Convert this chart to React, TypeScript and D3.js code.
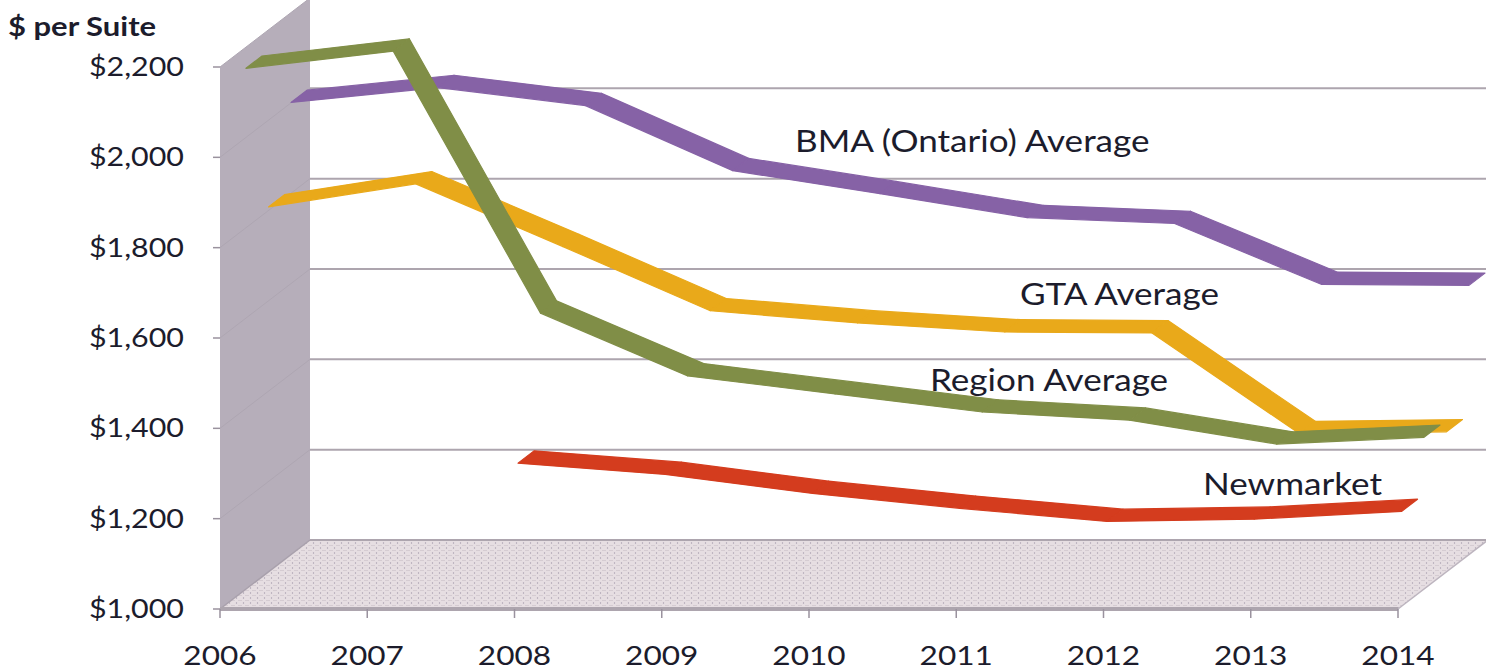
import React from 'react';
import * as d3 from 'd3';

// ---------- data ----------
const years = [2006, 2007, 2008, 2009, 2010, 2011, 2012, 2013, 2014];
const yTickValues = [1000, 1200, 1400, 1600, 1800, 2000, 2200];
const newmarketValues: (number | null)[] = [null, null, 1317, 1292, 1250, 1217, 1188, 1193, 1210];
const regionValues: (number | null)[] = [2153, 2191, 1611, 1472, 1432, 1392, 1374, 1321, 1336];
const gtaValues: (number | null)[] = [1808, 1859, 1720, 1578, 1551, 1531, 1529, 1306, 1310];
const bmaValues: (number | null)[] = [2001, 2034, 1994, 1850, 1799, 1746, 1733, 1598, 1596];
const seriesNames = ['Newmarket', 'Region Average', 'GTA Average', 'BMA (Ontario) Average'];
const seriesColors = ['#D43C1E', '#808E47', '#E9A91A', '#8662A6'];
const yAxisTitle = '$ per Suite';

// ---------- layout ----------
const W = 1486;
const H = 670;
const DX = 90; // depth offset in x
const DY = -69; // depth offset in y
const TEXT = '#1c1c2c';
const FONT = 'Lato, "Open Sans", sans-serif';
const SX = 1.17; // horizontal stretch of text

const x = d3.scalePoint<number>().domain(years).range([220, 1398]);
const y = d3.scaleLinear().domain([1000, 2200]).range([609, 67]);

const proj = (yr: number, v: number, d: number): [number, number] => [
  (x(yr) as number) + d * DX,
  y(v) + d * DY,
];

const allSeries = [newmarketValues, regionValues, gtaValues, bmaValues];

// label placements (layout)
const seriesLabelPos = [
  { x: 1203, y: 495 },
  { x: 930, y: 391 },
  { x: 1020, y: 305 },
  { x: 795, y: 152 },
];

function Ribbon({ values, idx }: { values: (number | null)[]; idx: number }) {
  const f0 = (idx * 22.5 + 3.5) / DX;
  const f1 = (idx * 22.5 + 19.5) / DX;
  const color = seriesColors[idx];
  const polys: string[] = [];
  for (let i = 0; i < years.length - 1; i++) {
    const a = values[i];
    const b = values[i + 1];
    if (a == null || b == null) continue;
    const p1f = proj(years[i], a, f0);
    const p2f = proj(years[i + 1], b, f0);
    const p2b = proj(years[i + 1], b, f1);
    const p1b = proj(years[i], a, f1);
    polys.push([p1f, p2f, p2b, p1b].map((p) => p.join(',')).join(' '));
  }
  return (
    <g>
      {polys.map((pts, i) => (
        <polygon key={i} points={pts} fill={color} stroke={color} strokeWidth={1.2} strokeLinejoin="round" />
      ))}
    </g>
  );
}

export default function App() {
  const x0 = x(2006) as number;
  const x1 = x(2014) as number;
  const yBase = y(1000);
  const yTop = y(2200);

  const floorPts = [
    [x0, yBase],
    [x1, yBase],
    [x1 + DX, yBase + DY],
    [x0 + DX, yBase + DY],
  ]
    .map((p) => p.join(','))
    .join(' ');
  const wallPts = [
    [x0, yBase],
    [x0, yTop],
    [x0 + DX, yTop + DY],
    [x0 + DX, yBase + DY],
  ]
    .map((p) => p.join(','))
    .join(' ');

  const drawOrder = [3, 2, 1, 0];

  return (
    <svg
      width={W}
      height={H}
      viewBox={`0 0 ${W} ${H}`}
      style={{ position: 'absolute', left: 0, top: 0, display: 'block', background: '#fff' }}
    >
      <defs>
        <pattern id="floorPat" width="7" height="5" patternUnits="userSpaceOnUse">
          <rect width="7" height="5" fill="#E6DEE2" />
          <line x1="0" y1="0.5" x2="4" y2="0.5" stroke="#D5CCD2" strokeWidth="1" />
          <circle cx="5.5" cy="3" r="0.7" fill="#A89EB0" />
        </pattern>
      </defs>

      {/* side wall */}
      <polygon points={wallPts} fill="#B6AEBA" />
      {yTickValues.slice(1).map((v) => (
        <line
          key={'sw' + v}
          x1={x0}
          y1={y(v)}
          x2={x0 + DX}
          y2={y(v) + DY}
          stroke="#AEA6B2"
          strokeWidth={1}
        />
      ))}

      {/* floor */}
      <polygon points={floorPts} fill="url(#floorPat)" />
      <line x1={x0} y1={yBase} x2={x0 + DX} y2={yBase + DY} stroke="#A8A0AC" strokeWidth={1.5} />
      <line x1={x1} y1={yBase} x2={x1 + DX} y2={yBase + DY} stroke="#BDB5BF" strokeWidth={1.5} />

      {/* back wall gridlines */}
      {yTickValues.map((v) => (
        <line
          key={'g' + v}
          x1={x0 + DX}
          y1={y(v) + DY}
          x2={W}
          y2={y(v) + DY}
          stroke="#ADA5AE"
          strokeWidth={2}
        />
      ))}

      {/* axes */}
      <line x1={x0} y1={yBase} x2={x1} y2={yBase} stroke="#ADA5AE" strokeWidth={4} />
      {yTickValues.map((v) => (
        <line key={'yt' + v} x1={x0 - 7} y1={y(v)} x2={x0} y2={y(v)} stroke="#9A929E" strokeWidth={1.5} />
      ))}
      {years.map((yr) => (
        <line
          key={'xt' + yr}
          x1={x(yr) as number}
          y1={yBase}
          x2={x(yr) as number}
          y2={yBase + 9}
          stroke="#9A929E"
          strokeWidth={1.5}
        />
      ))}

      {/* ribbons */}
      {drawOrder.map((i) => (
        <Ribbon key={i} values={allSeries[i]} idx={i} />
      ))}

      {/* series labels */}
      {seriesNames.map((name, i) => (
        <text
          key={name}
          transform={`translate(${seriesLabelPos[i].x},${seriesLabelPos[i].y}) scale(${SX},1)`}
          fontFamily={FONT}
          fontSize={30}
          fill={TEXT}
        >
          {name}
        </text>
      ))}

      {/* y tick labels */}
      {yTickValues.map((v) => (
        <text
          key={'yl' + v}
          transform={`translate(184,${y(v) + 9}) scale(${SX},1)`}
          textAnchor="end"
          fontFamily={FONT}
          fontSize={26}
          fill={TEXT}
        >
          {d3.format('$,')(v)}
        </text>
      ))}

      {/* x tick labels */}
      {years.map((yr) => (
        <text
          key={'xl' + yr}
          transform={`translate(${x(yr) as number},665) scale(${SX},1)`}
          textAnchor="middle"
          fontFamily={FONT}
          fontSize={27}
          fill={TEXT}
        >
          {yr}
        </text>
      ))}

      {/* axis title */}
      <text
        transform={`translate(8,36) scale(${SX},1)`}
        fontFamily={FONT}
        fontWeight="bold"
        fontSize={26.5}
        fill={TEXT}
      >
        {yAxisTitle}
      </text>
    </svg>
  );
}
